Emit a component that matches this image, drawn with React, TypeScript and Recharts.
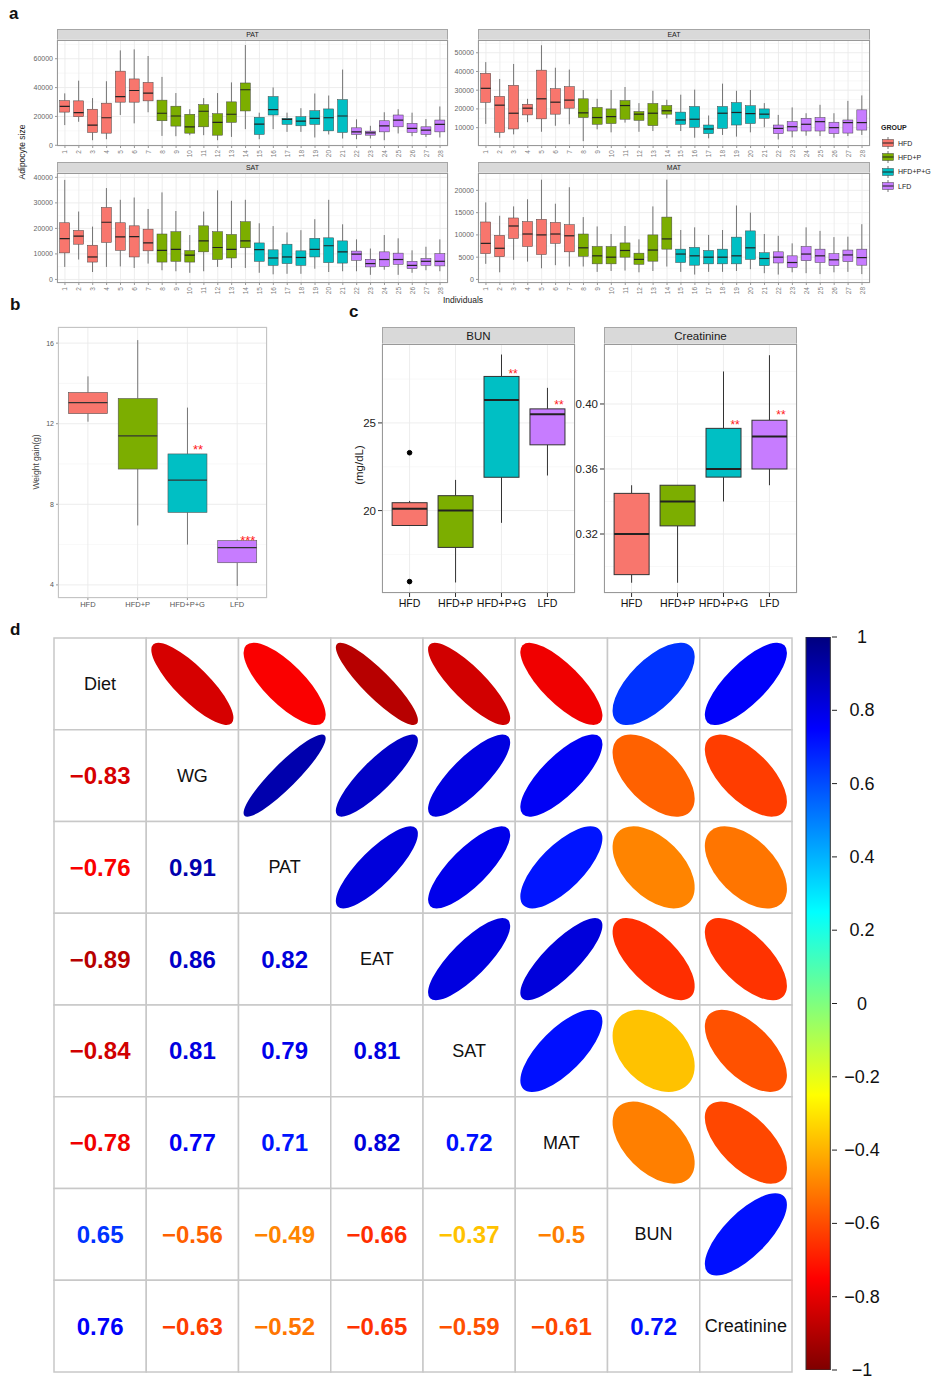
import React from 'react';
import { ComposedChart, Bar, Line, XAxis, YAxis, CartesianGrid, ScatterChart, Scatter, BarChart } from 'recharts';

const FONT = '"Liberation Sans", Arial, Helvetica, sans-serif';

const groups = ['HFD', 'HFD+P', 'HFD+P+G', 'LFD'];
const groupColors = ['#F8766D', '#7CAE00', '#00BFC4', '#C77CFF'];

// panel a: individuals 1-28 and their diet group
const individuals = ['1', '2', '3', '4', '5', '6', '7', '8', '9', '10', '11', '12', '13', '14',
  '15', '16', '17', '18', '19', '20', '21', '22', '23', '24', '25', '26', '27', '28'];
const individualGroup = ['HFD', 'HFD', 'HFD', 'HFD', 'HFD', 'HFD', 'HFD',
  'HFD+P', 'HFD+P', 'HFD+P', 'HFD+P', 'HFD+P', 'HFD+P', 'HFD+P',
  'HFD+P+G', 'HFD+P+G', 'HFD+P+G', 'HFD+P+G', 'HFD+P+G', 'HFD+P+G', 'HFD+P+G',
  'LFD', 'LFD', 'LFD', 'LFD', 'LFD', 'LFD', 'LFD'];

// [lower whisker, Q1, median, Q3, upper whisker]
const patStats = [
  [14000, 23000, 27000, 31000, 36000], [16300, 19800, 22600, 30800, 44800], [3500, 8900, 14000, 25000, 32700],
  [4200, 8400, 19100, 29200, 44400], [21000, 29900, 33800, 51400, 65800], [15200, 29900, 38000, 46000, 66500],
  [22900, 30800, 36200, 43600, 61900], [6500, 17000, 22200, 31300, 47400], [6300, 13300, 20300, 27100, 36200],
  [7000, 8400, 12800, 21500, 25000], [7000, 12800, 23600, 28200, 32700], [3500, 7000, 15900, 21900, 36200],
  [5800, 15900, 21500, 30100, 43600], [11200, 23800, 38500, 43200, 69500], [4200, 7500, 14700, 19400, 22600],
  [11200, 21000, 24700, 33800, 40100], [9300, 14500, 18000, 18700, 22600], [9300, 13500, 16800, 19800, 25700],
  [5400, 14500, 18700, 24000, 35900], [7500, 10000, 19100, 25200, 34500], [4700, 8900, 20300, 31700, 52500],
  [4200, 7500, 9300, 12100, 18000], [4700, 7000, 8600, 9800, 13500], [3500, 9300, 13500, 17000, 22900],
  [8200, 12800, 17500, 21000, 25000], [6300, 8900, 11700, 15200, 22600], [5800, 7500, 10500, 12800, 18200],
  [5400, 9300, 14500, 17500, 26900],
];
const eatStats = [
  [12000, 23500, 31000, 39000, 45000], [4600, 7500, 22000, 26700, 36000], [6400, 9300, 17700, 32600, 44000],
  [12900, 16800, 20400, 22500, 25400], [7800, 14700, 25400, 40700, 54000], [11000, 17200, 23600, 30800, 42000],
  [11800, 20400, 24700, 31900, 41000], [2800, 15400, 17900, 25400, 30100], [9100, 11800, 15400, 20800, 25400],
  [7500, 12200, 15900, 20000, 30100], [12700, 14500, 21800, 24500, 31700], [7800, 13900, 17200, 18600, 23100],
  [8200, 11100, 17700, 22900, 29700], [15000, 17200, 19000, 21800, 24900], [8200, 11800, 14100, 18300, 27600],
  [4600, 10200, 14500, 21300, 30300], [4300, 6800, 9300, 11400, 16500], [6100, 9600, 17700, 21300, 33500],
  [5200, 11400, 18100, 23400, 29700], [7500, 12200, 17500, 21700, 30100], [10200, 15000, 17200, 20000, 23100],
  [3700, 6800, 9600, 11400, 16800], [4800, 8200, 10500, 13200, 20800], [5700, 8200, 11800, 15000, 17700],
  [5500, 8200, 13200, 15400, 22200], [4600, 6800, 10000, 12900, 17700], [5500, 7100, 12700, 14100, 24300],
  [6100, 8700, 12700, 19500, 27200],
];
const satStats = [
  [4900, 10400, 16000, 22200, 39000], [7800, 13800, 17000, 19200, 26600], [2900, 6800, 8800, 13400, 20700],
  [4900, 14500, 22400, 28200, 35800], [5100, 11400, 16700, 22200, 31200], [4500, 8800, 16800, 21000, 32100],
  [6200, 11200, 14300, 19700, 27600], [3600, 6800, 11400, 17800, 34100], [3200, 7100, 11800, 18700, 26800],
  [2600, 6800, 9500, 11300, 17400], [3200, 10800, 15100, 21000, 26600], [4900, 7800, 12500, 18700, 34900],
  [4500, 8400, 11800, 17600, 30800], [4500, 12400, 15100, 22600, 31200], [2600, 7100, 11700, 14300, 22000],
  [2000, 5500, 8400, 11600, 20900], [2200, 6200, 8800, 13800, 18400], [2200, 5500, 8600, 11200, 19300],
  [4200, 8800, 11800, 16100, 23600], [2900, 6600, 13200, 16300, 31200], [3200, 6400, 10800, 15100, 21600],
  [3200, 7500, 9900, 11100, 15700], [1800, 4900, 6200, 7900, 12100], [3800, 5100, 7800, 10800, 17400],
  [1800, 5900, 7800, 10300, 16100], [2600, 4200, 5500, 7100, 11400], [3600, 5500, 7100, 8200, 12800],
  [3200, 5300, 7100, 10100, 15700],
];
const matStats = [
  [3500, 5800, 8100, 12900, 17300], [1600, 5100, 7000, 9900, 14300], [4400, 9200, 12000, 13800, 16400],
  [4000, 7400, 10200, 13000, 18000], [2500, 5600, 10000, 13500, 22400], [3200, 8100, 10200, 12800, 17000],
  [2900, 6200, 9800, 12300, 20700], [2900, 5200, 7100, 10200, 14000], [1700, 3500, 5300, 7400, 11900],
  [1900, 3500, 5000, 7400, 10200], [2000, 5000, 6500, 8200, 12000], [1600, 3400, 4500, 5900, 9000],
  [1900, 4100, 6600, 10000, 16400], [2900, 6800, 9100, 14000, 22400], [1700, 3800, 5700, 6800, 11100],
  [1100, 3200, 5300, 7200, 11700], [1700, 3500, 5000, 6500, 10000], [1700, 3500, 5000, 6800, 11100],
  [1900, 3500, 5300, 9500, 16600], [2300, 4500, 7100, 10900, 15000], [1400, 3100, 4700, 6000, 10200],
  [1100, 3700, 5000, 6200, 9800], [1600, 2700, 3800, 5300, 8100], [1400, 4200, 5700, 7400, 11700],
  [1200, 3800, 5300, 6800, 10900], [1600, 3100, 4400, 5800, 9500], [1700, 4000, 5500, 6600, 9600],
  [1200, 3200, 4900, 6800, 12400],
];

// panel b: weight gain (g)
const wgStats = [[12.1, 12.5, 13.05, 13.55, 14.35], [6.95, 9.75, 11.4, 13.25, 16.15], [6.0, 7.6, 9.2, 10.5, 12.8], [3.95, 5.1, 5.85, 6.2, 6.25]];
const wgSig = ['', '', '**', '***'];
const wgSigAt = [null, null, 10.9, 6.35];

// panel c: BUN and creatinine (mg/dL)
const bunStats = [[19.15, 19.15, 20.1, 20.45, 20.55], [15.9, 17.9, 20.0, 20.85, 21.75], [19.3, 21.9, 26.3, 27.65, 28.9], [22.0, 23.75, 25.5, 25.8, 27.0]];
const bunOutHigh = [23.3, null, null, null];
const bunOutLow = [15.95, null, null, null];
const bunSig = ['', '', '**', '**'];
const bunSigAt = [null, null, 28.0, 26.2];
const creatStats = [[0.29, 0.295, 0.32, 0.345, 0.35], [0.29, 0.325, 0.34, 0.35, 0.35], [0.34, 0.355, 0.36, 0.385, 0.42], [0.35, 0.36, 0.38, 0.39, 0.43]];
const creatSig = ['', '', '**', '**'];
const creatSigAt = [null, null, 0.389, 0.395];

// panel d: correlation matrix, lower triangle by row
const corrVars = ['Diet', 'WG', 'PAT', 'EAT', 'SAT', 'MAT', 'BUN', 'Creatinine'];
const corrWG = [-0.83];
const corrPAT = [-0.76, 0.91];
const corrEAT = [-0.89, 0.86, 0.82];
const corrSAT = [-0.84, 0.81, 0.79, 0.81];
const corrMAT = [-0.78, 0.77, 0.71, 0.82, 0.72];
const corrBUN = [0.65, -0.56, -0.49, -0.66, -0.37, -0.5];
const corrCreatinine = [0.76, -0.63, -0.52, -0.65, -0.59, -0.61, 0.72];
const colorbarTicks = [-1, -0.8, -0.6, -0.4, -0.2, 0, 0.2, 0.4, 0.6, 0.8, 1];
const corrPalette = ['#7F0000', '#FF0000', '#FF7F00', '#FFFF00', '#7FFF7F', '#00FFFF', '#007FFF', '#0000FF', '#00007F'];

type BoxRow = {
  name: string; lo: number; q1: number; med: number; q3: number; hi: number; color: string;
  sig: string; sigAt: number | null; outHigh: number | null; outLow: number | null;
};

const buildRows = (names: string[], stats: number[][], groupOf: string[], sig: string[] = [],
  sigAt: (number | null)[] = [], outHigh: (number | null)[] = [], outLow: (number | null)[] = []): BoxRow[] =>
  names.map((name, i) => ({
    name, lo: stats[i][0], q1: stats[i][1], med: stats[i][2], q3: stats[i][3], hi: stats[i][4],
    color: groupColors[groups.indexOf(groupOf[i])],
    sig: sig[i] ?? '', sigAt: sigAt[i] ?? null, outHigh: outHigh[i] ?? null, outLow: outLow[i] ?? null,
  }));

const hexToRgb = (h: string) => [1, 3, 5].map((k) => parseInt(h.slice(k, k + 2), 16));
const corrColor = (r: number) => {
  const t = ((r + 1) / 2) * (corrPalette.length - 1);
  const i = Math.min(corrPalette.length - 2, Math.floor(t));
  const f = t - i;
  const a = hexToRgb(corrPalette[i]);
  const b = hexToRgb(corrPalette[i + 1]);
  const c = a.map((v, k) => Math.round(v + (b[k] - v) * f));
  return `rgb(${c[0]},${c[1]},${c[2]})`;
};
const fmtSigned = (v: number) => (v < 0 ? '\u2212' + String(Math.abs(v)) : String(v));

type BoxStyle = {
  boxStroke: string; boxStrokeW: number; whisker: string; whiskerW: number;
  median: string; medianW: number; sigSize: number; sigDx: number;
};

const BoxGlyph = (props: any) => {
  const { x, y, width, height, payload, st } = props;
  if (!payload || !Number.isFinite(y) || !Number.isFinite(height)) return null;
  const top = Math.min(y, y + height);
  const bottom = Math.max(y, y + height);
  const span = payload.hi - payload.lo || 1;
  const py = (v: number) => bottom - ((v - payload.lo) / span) * (bottom - top);
  const cx = x + width / 2;
  const yq3 = py(payload.q3);
  const yq1 = py(payload.q1);
  const ym = py(payload.med);
  return (
    <g>
      <line x1={cx} x2={cx} y1={top} y2={yq3} stroke={st.whisker} strokeWidth={st.whiskerW} />
      <line x1={cx} x2={cx} y1={yq1} y2={bottom} stroke={st.whisker} strokeWidth={st.whiskerW} />
      <rect x={x} y={yq3} width={width} height={Math.max(yq1 - yq3, 0.5)} fill={payload.color}
        stroke={st.boxStroke} strokeWidth={st.boxStrokeW} />
      <line x1={x} x2={x + width} y1={ym} y2={ym} stroke={st.median} strokeWidth={st.medianW} />
      {payload.sig && payload.sigAt != null && (
        <text x={cx + width * st.sigDx} y={py(payload.sigAt) + st.sigSize * 0.6} textAnchor="middle"
          fontSize={st.sigSize} fill="#FF1A1A">{payload.sig}</text>
      )}
    </g>
  );
};

const VerticalTick = (props: any) => {
  const { x, y, payload } = props;
  return (
    <text x={x} y={y} transform={`rotate(-90, ${x}, ${y})`} textAnchor="end" dominantBaseline="central"
      fontSize={6.5} fill="#808080">{payload.value}</text>
  );
};

const PAD = 8;

type PanelProps = {
  rows: BoxRow[]; left: number; top: number; width: number; height: number; yAxisWidth: number;
  xAxisHeight: number; domain: [number, number]; ticks: number[]; minor: number[]; tickLen: number;
  tickColor: string; yFont: number; yColor: string; xTick: any; gap: string; pad: number; st: BoxStyle;
  outliers?: boolean; yFormat?: (v: number) => string;
};

const BoxPanel = (p: PanelProps) => {
  const shape = (props: any) => <BoxGlyph {...props} st={p.st} />;
  return (
    <div style={{ position: 'absolute', left: p.left - p.yAxisWidth, top: p.top - PAD }}>
      <ComposedChart width={p.yAxisWidth + p.width + PAD} height={p.height + p.xAxisHeight + 2 * PAD}
        data={p.rows} margin={{ top: PAD, right: PAD, bottom: PAD, left: 0 }} barCategoryGap={p.gap}>
        <CartesianGrid horizontalValues={p.minor} vertical={false} stroke="#F4F4F4" strokeWidth={0.6} />
        <CartesianGrid stroke="#EBEBEB" strokeWidth={0.9} />
        <XAxis dataKey="name" type="category" interval={0} height={p.xAxisHeight}
          padding={{ left: p.pad, right: p.pad }} tickSize={p.tickLen} tickLine={{ stroke: p.tickColor }}
          axisLine={false} tick={p.xTick} />
        <YAxis type="number" domain={p.domain} allowDataOverflow ticks={p.ticks} interval={0} width={p.yAxisWidth}
          tickSize={p.tickLen} tickLine={{ stroke: p.tickColor }} axisLine={false} tickFormatter={p.yFormat}
          tick={{ fontSize: p.yFont, fill: p.yColor }} />
        <Bar dataKey={(d: BoxRow) => [d.lo, d.hi]} shape={shape} isAnimationActive={false} />
        {p.outliers && (
          <Line dataKey="outHigh" stroke="none" dot={{ r: 2.3, fill: '#000', stroke: '#000' }} activeDot={false}
            isAnimationActive={false} />
        )}
        {p.outliers && (
          <Line dataKey="outLow" stroke="none" dot={{ r: 2.3, fill: '#000', stroke: '#000' }} activeDot={false}
            isAnimationActive={false} />
        )}
      </ComposedChart>
    </div>
  );
};

const Frame = ({ left, top, width, height, color }: { left: number; top: number; width: number; height: number; color: string }) => (
  <div style={{ position: 'absolute', left, top, width, height, border: `1px solid ${color}`, boxSizing: 'border-box', pointerEvents: 'none' }} />
);

const Strip = ({ left, top, width, height, text, size }: { left: number; top: number; width: number; height: number; text: string; size: number }) => (
  <div style={{
    position: 'absolute', left, top, width, height, background: '#D9D9D9', border: '1px solid #A6A6A6',
    boxSizing: 'border-box', fontSize: size, lineHeight: `${height - 2}px`, textAlign: 'center', color: '#1A1A1A',
  }}>{text}</div>
);

const RotLabel = ({ x, y, text, size, color = '#222' }: { x: number; y: number; text: string; size: number; color?: string }) => (
  <div style={{
    position: 'absolute', left: x, top: y, transform: 'translate(-50%, -50%) rotate(-90deg)',
    whiteSpace: 'nowrap', fontSize: size, color,
  }}>{text}</div>
);

const Letter = ({ x, y, t }: { x: number; y: number; t: string }) => (
  <div style={{ position: 'absolute', left: x, top: y, fontSize: 17, fontWeight: 'bold', color: '#111' }}>{t}</div>
);

const styleA: BoxStyle = { boxStroke: '#444', boxStrokeW: 0.5, whisker: '#666', whiskerW: 0.9, median: '#222', medianW: 1.2, sigSize: 11, sigDx: 0.3 };
const styleB: BoxStyle = { boxStroke: '#555', boxStrokeW: 0.6, whisker: '#777', whiskerW: 1, median: '#333', medianW: 1.2, sigSize: 13, sigDx: 0.27 };
const styleC: BoxStyle = { boxStroke: '#333', boxStrokeW: 1, whisker: '#333', whiskerW: 1, median: '#222', medianW: 2, sigSize: 12, sigDx: 0.33 };

const patRows = buildRows(individuals, patStats, individualGroup);
const eatRows = buildRows(individuals, eatStats, individualGroup);
const satRows = buildRows(individuals, satStats, individualGroup);
const matRows = buildRows(individuals, matStats, individualGroup);
const wgRows = buildRows(groups, wgStats, groups, wgSig, wgSigAt);
const bunRows = buildRows(groups, bunStats, groups, bunSig, bunSigAt, bunOutHigh, bunOutLow);
const creatRows = buildRows(groups, creatStats, groups, creatSig, creatSigAt);

const facetCommon = {
  xAxisHeight: 14, tickLen: 2, tickColor: '#999', yFont: 7, yColor: '#666',
  xTick: <VerticalTick />, gap: '12.5%', pad: 1, st: styleA,
};
const cTick = { fontSize: 10.6, fill: '#111' };

// correlation cells
const corrLower = [[], corrWG, corrPAT, corrEAT, corrSAT, corrMAT, corrBUN, corrCreatinine];
type CorrCellRow = { x: number; y: number; kind: string; r: number; text: string };
const corrCells: CorrCellRow[] = corrVars.flatMap((rowVar, i) =>
  corrVars.map((_, j) => {
    if (i === j) return { x: j + 0.5, y: i + 0.5, kind: 'label', r: 1, text: rowVar };
    const r = i > j ? corrLower[i][j] : corrLower[j][i];
    return { x: j + 0.5, y: i + 0.5, kind: i > j ? 'num' : 'ell', r, text: fmtSigned(r) };
  }),
);

const GRID_W = 738;
const GRID_H = 734;
const CELL_W = GRID_W / corrVars.length;
const CELL_H = GRID_H / corrVars.length;

const CorrCell = (props: any) => {
  const { cx, cy, payload } = props;
  if (!payload || !Number.isFinite(cx)) return null;
  const col = corrColor(payload.r);
  const sc = CELL_W * 0.445;
  const a = sc * Math.sqrt(1 + Math.abs(payload.r));
  const b = sc * Math.sqrt(Math.max(1 - Math.abs(payload.r), 0.0001));
  return (
    <g>
      <rect x={cx - CELL_W / 2} y={cy - CELL_H / 2} width={CELL_W} height={CELL_H} fill="#fff" stroke="#C8C8C8" strokeWidth={1.5} />
      {payload.kind === 'label' && (
        <text x={cx} y={cy} textAnchor="middle" dominantBaseline="central" fontSize={18} fill="#111">{payload.text}</text>
      )}
      {payload.kind === 'num' && (
        <text x={cx} y={cy} textAnchor="middle" dominantBaseline="central" fontSize={24} fontWeight="bold" fill={col}>{payload.text}</text>
      )}
      {payload.kind === 'ell' && (
        <ellipse cx={cx} cy={cy} rx={a} ry={b} fill={col} transform={`rotate(${payload.r > 0 ? -45 : 45}, ${cx}, ${cy})`} />
      )}
    </g>
  );
};

const ColorbarTick = (props: any) => {
  const { x, y, payload } = props;
  return (
    <text x={x + 23} y={y} textAnchor="middle" dominantBaseline="central" fontSize={18} fill="#111">{fmtSigned(payload.value)}</text>
  );
};

const colorbarData = [{ name: 'scale', range: [-1, 1] }];

export default function App() {
  return (
    <div style={{ position: 'absolute', left: 0, top: 0, width: 936, height: 1382, background: '#fff', fontFamily: FONT, overflow: 'hidden' }}>
      <Letter x={9} y={4} t="a" />
      <Letter x={10} y={295} t="b" />
      <Letter x={349} y={302} t="c" />
      <Letter x={10} y={620} t="d" />

      {/* panel a */}
      <Strip left={57} top={29} width={391} height={12} text="PAT" size={7} />
      <Strip left={478} top={29} width={392} height={12} text="EAT" size={7} />
      <Strip left={57} top={162} width={391} height={12} text="SAT" size={7} />
      <Strip left={478} top={162} width={392} height={12} text="MAT" size={7} />
      <BoxPanel {...facetCommon} rows={patRows} left={57} top={40} width={391} height={106} yAxisWidth={40}
        domain={[-500, 73000]} ticks={[0, 20000, 40000, 60000]} minor={[10000, 30000, 50000, 70000]} />
      <BoxPanel {...facetCommon} rows={eatRows} left={478} top={40} width={392} height={106} yAxisWidth={28}
        domain={[200, 56800]} ticks={[10000, 20000, 30000, 40000, 50000]} minor={[5000, 15000, 25000, 35000, 45000, 55000]} />
      <BoxPanel {...facetCommon} rows={satRows} left={57} top={173} width={391} height={110} yAxisWidth={40}
        domain={[-1400, 41700]} ticks={[0, 10000, 20000, 30000, 40000]} minor={[5000, 15000, 25000, 35000]} />
      <BoxPanel {...facetCommon} rows={matRows} left={478} top={173} width={392} height={110} yAxisWidth={28}
        domain={[-800, 23900]} ticks={[0, 5000, 10000, 15000, 20000]} minor={[2500, 7500, 12500, 17500, 22500]} />
      <Frame left={57} top={40} width={391} height={106} color="#999" />
      <Frame left={478} top={40} width={392} height={106} color="#999" />
      <Frame left={57} top={173} width={391} height={110} color="#999" />
      <Frame left={478} top={173} width={392} height={110} color="#999" />
      <RotLabel x={22} y={152} text="Adipocyte size" size={8.5} />
      <div style={{ position: 'absolute', left: 463, top: 300, transform: 'translate(-50%, -50%)', fontSize: 8.5, color: '#222' }}>Individuals</div>
      <div style={{ position: 'absolute', left: 881, top: 124, fontSize: 7, color: '#222' }}>
        <div style={{ fontWeight: 'bold', height: 12 }}>GROUP</div>
        {groups.map((g, i) => (
          <div key={g} style={{ display: 'flex', alignItems: 'center', height: 14.3 }}>
            <svg width={14} height={12}>
              <line x1={7} x2={7} y1={0} y2={12} stroke="#666" strokeWidth={0.9} />
              <rect x={1.5} y={2.5} width={11} height={7} fill={groupColors[i]} stroke="#444" strokeWidth={0.5} />
              <line x1={1.5} x2={12.5} y1={6} y2={6} stroke="#222" strokeWidth={1} />
            </svg>
            <span style={{ marginLeft: 3 }}>{g}</span>
          </div>
        ))}
      </div>

      {/* panel b */}
      <BoxPanel rows={wgRows} left={58} top={327} width={209} height={271} yAxisWidth={32} xAxisHeight={16}
        domain={[3.35, 16.8]} ticks={[4, 8, 12, 16]} minor={[6, 10, 14]} tickLen={2} tickColor="#999" yFont={7}
        yColor="#555" xTick={{ fontSize: 7.5, fill: '#555' }} gap="11%" pad={5} st={styleB} />
      <Frame left={58} top={327} width={209} height={271} color="#C4C4C4" />
      <RotLabel x={36} y={462} text="Weight gain(g)" size={8.5} color="#444" />

      {/* panel c */}
      <Strip left={382} top={327} width={193} height={18} text="BUN" size={11.5} />
      <Strip left={604} top={327} width={193} height={18} text="Creatinine" size={11.5} />
      <BoxPanel rows={bunRows} left={382} top={344} width={193} height={249} yAxisWidth={32} xAxisHeight={20}
        domain={[15.3, 29.5]} ticks={[20, 25]} minor={[17.5, 22.5, 27.5]} tickLen={4} tickColor="#333" yFont={11.5}
        yColor="#222" xTick={cTick} gap="12%" pad={4.6} st={styleC} outliers />
      <BoxPanel rows={creatRows} left={604} top={344} width={193} height={249} yAxisWidth={32} xAxisHeight={20}
        domain={[0.2837, 0.4369]} ticks={[0.32, 0.36, 0.4]} minor={[0.3, 0.34, 0.38, 0.42]} tickLen={4} tickColor="#333"
        yFont={11.5} yColor="#222" xTick={cTick} gap="12%" pad={4.6} st={styleC}
        yFormat={(v: number) => v.toFixed(2)} />
      <Frame left={382} top={344} width={193} height={249} color="#999" />
      <Frame left={604} top={344} width={193} height={249} color="#999" />
      <RotLabel x={359} y={465} text="(mg/dL)" size={11.5} />

      {/* panel d */}
      <div style={{ position: 'absolute', left: 54 - 2, top: 638 - 2 }}>
        <ScatterChart width={GRID_W + 4} height={GRID_H + 4} margin={{ top: 2, right: 2, bottom: 2, left: 2 }}>
          <XAxis type="number" dataKey="x" domain={[0, 8]} hide height={0} />
          <YAxis type="number" dataKey="y" domain={[0, 8]} reversed hide width={0} />
          <Scatter data={corrCells} shape={(props: any) => <CorrCell {...props} />} isAnimationActive={false} />
        </ScatterChart>
      </div>
      <div style={{ position: 'absolute', left: 805, top: 637 - 12 }}>
        <BarChart width={27 + 70} height={733 + 24} data={colorbarData} margin={{ top: 12, right: 0, bottom: 12, left: 0 }} barCategoryGap={0}>
          <defs>
            <linearGradient id="corrGrad" x1="0" y1="1" x2="0" y2="0">
              {corrPalette.map((c, i) => (
                <stop key={c} offset={`${(i / (corrPalette.length - 1)) * 100}%`} stopColor={c} />
              ))}
            </linearGradient>
          </defs>
          <XAxis dataKey="name" hide height={0} />
          <YAxis orientation="right" type="number" domain={[-1, 1]} allowDataOverflow ticks={colorbarTicks} interval={0}
            width={70} axisLine={false} tickLine={{ stroke: '#222' }} tickSize={5} tick={<ColorbarTick />} />
          <Bar dataKey="range" barSize={27} fill="url(#corrGrad)" stroke="#333" strokeWidth={1} isAnimationActive={false} />
        </BarChart>
      </div>
    </div>
  );
}
